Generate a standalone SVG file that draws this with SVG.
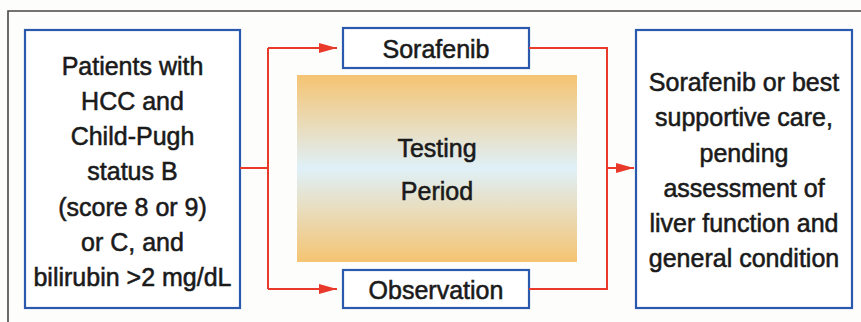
<svg xmlns="http://www.w3.org/2000/svg" width="861" height="322" viewBox="0 0 861 322">
<defs>
<linearGradient id="g" x1="0" y1="0" x2="0" y2="1">
<stop offset="0" stop-color="#f5c472"/>
<stop offset="0.5" stop-color="#dff0f8"/>
<stop offset="1" stop-color="#f5c472"/>
</linearGradient>
<marker id="ah" viewBox="0 0 18 10" refX="18" refY="5" markerWidth="18" markerHeight="10" markerUnits="userSpaceOnUse" orient="auto">
<path d="M0,0 L18,5 L0,10 Z" fill="#e8392b"/>
</marker>
<style>
.box{fill:#fff;stroke:#2b59ad;stroke-width:2.2}
.t{font-family:"Liberation Sans",Arial,sans-serif;font-size:25px;fill:#1a1a1a;text-anchor:middle;stroke:#1a1a1a;stroke-width:0.55}
.c{fill:none;stroke:#e8392b;stroke-width:2}
</style>
</defs>
<rect width="861" height="322" fill="#fdfdfb"/>
<path d="M8,322 V11 H861" fill="none" stroke="#4a4540" stroke-width="1.6"/>
<g id="patients">
<rect class="box" x="25" y="30" width="215" height="278"/>
<text class="t" x="132.5" y="75">Patients with</text>
<text class="t" x="132.5" y="110">HCC and</text>
<text class="t" x="132.5" y="145">Child-Pugh</text>
<text class="t" x="132.5" y="180">status B</text>
<text class="t" x="132.5" y="216">(score 8 or 9)</text>
<text class="t" x="132.5" y="251">or C, and</text>
<text class="t" x="132.5" y="286">bilirubin &gt;2 mg/dL</text>
</g>
<g id="testing">
<rect x="297" y="75" width="280" height="187" fill="url(#g)"/>
<text class="t" x="437" y="157">Testing</text>
<text class="t" x="437" y="200">Period</text>
</g>
<g id="sorafenib">
<rect class="box" x="343" y="28" width="186" height="40"/>
<text class="t" x="436" y="58">Sorafenib</text>
</g>
<g id="observation">
<rect class="box" x="343" y="270" width="186" height="38"/>
<text class="t" x="436" y="299">Observation</text>
</g>
<g id="outcome">
<rect class="box" x="636" y="30" width="216" height="278"/>
<text class="t" x="744" y="91">Sorafenib or best</text>
<text class="t" x="744" y="126">supportive care,</text>
<text class="t" x="744" y="162">pending</text>
<text class="t" x="744" y="197">assessment of</text>
<text class="t" x="744" y="232">liver function and</text>
<text class="t" x="744" y="267">general condition</text>
</g>
<g id="connectors">
<path class="c" d="M240,168 H268"/>
<path class="c" d="M268,48 V289"/>
<path class="c" d="M268,48 H337" marker-end="url(#ah)"/>
<path class="c" d="M268,289 H337" marker-end="url(#ah)"/>
<path class="c" d="M529,48 H607 V289 H529"/>
<path class="c" d="M607,168 H634" marker-end="url(#ah)"/>
</g>
</svg>
